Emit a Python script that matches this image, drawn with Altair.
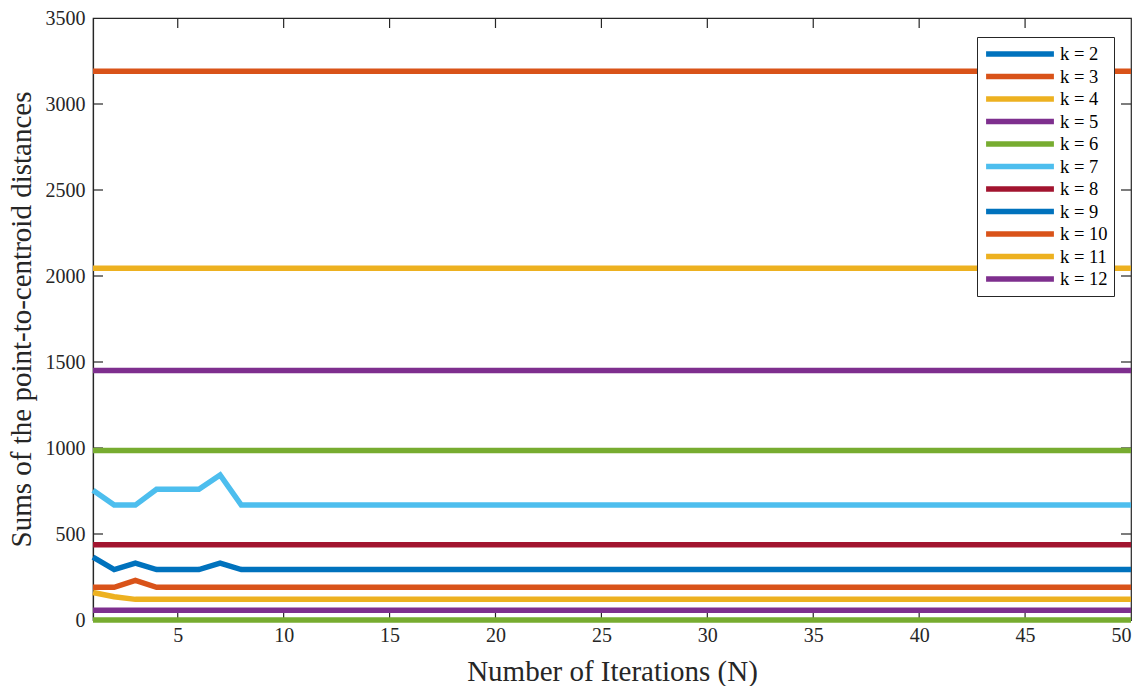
import altair as alt
import pandas as pd

iterations = list(range(1, 51))
labels = ["k = 2", "k = 3", "k = 4", "k = 5", "k = 6", "k = 7", "k = 8",
          "k = 9", "k = 10", "k = 11", "k = 12", "k = 13"]
colors = ["#0072BD", "#D95319", "#EDB120", "#7E2F8E", "#77AC30", "#4DBEEE",
          "#A2142F", "#0072BD", "#D95319", "#EDB120", "#7E2F8E", "#77AC30"]

# k = 2 lies above the visible range (not drawn); k = 13 sits at zero (not in legend)
k3 = [3190] * 50
k4 = [2045] * 50
k5 = [1450] * 50
k6 = [985] * 50
k7 = [755, 668, 668, 760, 760, 760, 843] + [668] * 43
k8 = [438] * 50
k9 = [365, 293, 330, 293, 293, 293, 330] + [293] * 43
k10 = [190, 190, 230] + [190] * 47
k11 = [160, 135, 120] + [120] * 47
k12 = [57] * 50
k13 = [0] * 50

x_ticks = [5, 10, 15, 20, 25, 30, 35, 40, 45, 50]
y_ticks = [0, 500, 1000, 1500, 2000, 2500, 3000, 3500]

series = {"k = 3": k3, "k = 4": k4, "k = 5": k5, "k = 6": k6, "k = 7": k7,
          "k = 8": k8, "k = 9": k9, "k = 10": k10, "k = 11": k11,
          "k = 12": k12, "k = 13": k13}

rows = []
for i, (name, vals) in enumerate(series.items()):
    for x, v in zip(iterations, vals):
        rows.append({"N": x, "value": v, "k": name, "order": i})
df = pd.DataFrame(rows)

font = "Times New Roman, Liberation Serif, serif"
W, H = 1038, 602
TL = 10
axis_col = "#262626"

xscale = alt.Scale(domain=[1, 50], nice=False)
yscale = alt.Scale(domain=[0, 3500], nice=False)

lines = alt.Chart(df).mark_line(strokeWidth=5.5, clip=False).encode(
    x=alt.X("N:Q", scale=xscale,
            axis=alt.Axis(title="Number of Iterations (N)", values=x_ticks,
                          format="d")),
    y=alt.Y("value:Q", scale=yscale,
            axis=alt.Axis(title="Sums of the point-to-centroid distances",
                          values=y_ticks, format="d")),
    color=alt.Color("k:N",
                    scale=alt.Scale(domain=labels, range=colors),
                    legend=alt.Legend(values=labels[:11], title=None,
                                      orient="none", legendX=884, legendY=19,
                                      symbolType="stroke", symbolSize=4600,
                                      symbolStrokeWidth=5.5, clipHeight=22,
                                      labelFont=font, labelFontSize=18.5,
                                      labelColor="#000000",
                                      strokeColor=axis_col, fillColor="white",
                                      padding=6, rowPadding=0.5, labelOffset=3)),
    detail="order:Q",
)

ytick_df = pd.DataFrame({"t": y_ticks[1:-1]})
xtick_df = pd.DataFrame({"t": x_ticks[:-1]})

yt_left = alt.Chart(ytick_df).mark_rule(color=axis_col, strokeWidth=1.2).encode(
    y=alt.Y("t:Q", scale=yscale), x=alt.value(0), x2=alt.value(TL))
yt_right = alt.Chart(ytick_df).mark_rule(color=axis_col, strokeWidth=1.2).encode(
    y=alt.Y("t:Q", scale=yscale), x=alt.value(W - TL), x2=alt.value(W))
xt_bottom = alt.Chart(xtick_df).mark_rule(color=axis_col, strokeWidth=1.2).encode(
    x=alt.X("t:Q", scale=xscale), y=alt.value(H - TL), y2=alt.value(H))
xt_top = alt.Chart(xtick_df).mark_rule(color=axis_col, strokeWidth=1.2).encode(
    x=alt.X("t:Q", scale=xscale), y=alt.value(0), y2=alt.value(TL))

chart = alt.layer(yt_left, yt_right, xt_bottom, xt_top, lines).properties(
    width=W, height=H,
    autosize=alt.AutoSizeParams(type="none"),
    padding={"left": 93, "top": 18, "right": 14, "bottom": 66},
).configure_view(
    stroke=axis_col, strokeWidth=1.2
).configure_axis(
    grid=False, domainColor=axis_col, domainWidth=1.2,
    ticks=False,
    labelFont=font, labelFontSize=20, labelColor=axis_col,
    titleFont=font, titleFontSize=29, titleFontWeight="normal", titleColor=axis_col,
).configure_axisX(
    labelPadding=5, titlePadding=12
).configure_axisY(
    labelPadding=8, titlePadding=9
)

chart.save("out.html", embed_options={"renderer": "svg", "actions": False})
